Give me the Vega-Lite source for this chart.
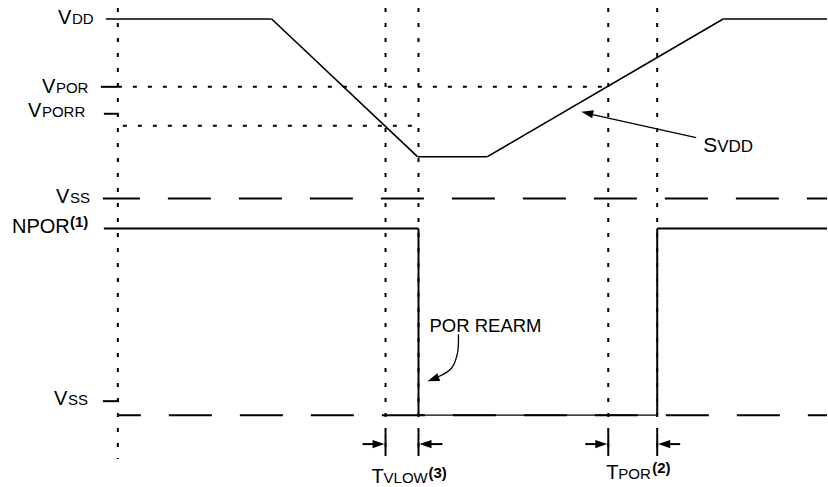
{
  "$schema": "https://vega.github.io/schema/vega-lite/v6.json",
  "width": 828,
  "height": 487,
  "autosize": {"type": "fit", "contains": "padding"},
  "padding": 0,
  "background": "white",
  "config": {"view": {"stroke": null}},
  "datasets": {
    "segs": [
      {"x": 106, "y": 19, "x2": 272, "y2": 19, "kind": "vdd"},
      {"x": 272, "y": 19, "x2": 418, "y2": 157, "kind": "vdd"},
      {"x": 418, "y": 157, "x2": 488, "y2": 157, "kind": "vdd"},
      {"x": 488, "y": 157, "x2": 724, "y2": 19, "kind": "vdd"},
      {"x": 724, "y": 19, "x2": 828, "y2": 19, "kind": "vdd"},
      {"x": 101, "y": 87, "x2": 118, "y2": 87, "kind": "tick"},
      {"x": 104, "y": 114, "x2": 119, "y2": 114, "kind": "tick"},
      {"x": 103, "y": 402, "x2": 119, "y2": 402, "kind": "tick"},
      {"x": 104, "y": 229, "x2": 419, "y2": 229, "kind": "npor"},
      {"x": 419, "y": 229, "x2": 419, "y2": 416, "kind": "npor"},
      {"x": 419, "y": 416, "x2": 658, "y2": 416, "kind": "nporlow"},
      {"x": 658, "y": 416, "x2": 658, "y2": 229, "kind": "npor"},
      {"x": 658, "y": 229, "x2": 828, "y2": 229, "kind": "npor"},
      {"x": 118, "y": 8, "x2": 118, "y2": 460, "kind": "guide"},
      {"x": 386, "y": 8, "x2": 386, "y2": 452, "kind": "guide"},
      {"x": 419, "y": 8, "x2": 419, "y2": 452, "kind": "guide"},
      {"x": 609, "y": 8, "x2": 609, "y2": 452, "kind": "guide"},
      {"x": 658, "y": 8, "x2": 658, "y2": 452, "kind": "guide"},
      {"x": 118, "y": 87, "x2": 609, "y2": 87, "kind": "guide"},
      {"x": 123, "y": 126, "x2": 419, "y2": 126, "kind": "guide"},
      {"x": 103, "y": 199, "x2": 828, "y2": 199, "kind": "rail"},
      {"x": 119, "y": 416, "x2": 828, "y2": 416, "kind": "raillow"},
      {"x": 386, "y": 433, "x2": 386, "y2": 457, "kind": "tick"},
      {"x": 419, "y": 433, "x2": 419, "y2": 457, "kind": "tick"},
      {"x": 609, "y": 433, "x2": 609, "y2": 457, "kind": "tick"},
      {"x": 658, "y": 433, "x2": 658, "y2": 457, "kind": "tick"},
      {"x": 363, "y": 445, "x2": 380, "y2": 445, "kind": "tick"},
      {"x": 443, "y": 445, "x2": 425, "y2": 445, "kind": "tick"},
      {"x": 586, "y": 445, "x2": 603, "y2": 445, "kind": "tick"},
      {"x": 681, "y": 445, "x2": 664, "y2": 445, "kind": "tick"},
      {"x": 697, "y": 138, "x2": 590, "y2": 114, "kind": "pointer"}
    ],
    "heads": [
      {"x": 385, "y": 445, "angle": 0},
      {"x": 420, "y": 445, "angle": 180},
      {"x": 608, "y": 445, "angle": 0},
      {"x": 659, "y": 445, "angle": 180},
      {"x": 582, "y": 112, "angle": 192},
      {"x": 428, "y": 382, "angle": 160}
    ],
    "curve": [
      {"x": 459, "y": 335, "i": 0},
      {"x": 458, "y": 354, "i": 1},
      {"x": 452, "y": 369, "i": 2},
      {"x": 438, "y": 378, "i": 3}
    ],
    "labels": [
      {"x": 58, "y": 24, "text": "V", "part": "cap"},
      {"x": 72, "y": 24, "text": "DD", "part": "small"},
      {"x": 42, "y": 93, "text": "V", "part": "cap"},
      {"x": 56, "y": 93, "text": "POR", "part": "small"},
      {"x": 28, "y": 117, "text": "V", "part": "cap"},
      {"x": 42, "y": 117, "text": "PORR", "part": "small"},
      {"x": 56, "y": 203, "text": "V", "part": "cap"},
      {"x": 70, "y": 203, "text": "SS", "part": "small"},
      {"x": 12, "y": 233, "text": "NPOR", "part": "word"},
      {"x": 70, "y": 227, "text": "(1)", "part": "sup"},
      {"x": 54, "y": 406, "text": "V", "part": "cap"},
      {"x": 68, "y": 406, "text": "SS", "part": "small"},
      {"x": 372, "y": 484, "text": "T", "part": "cap"},
      {"x": 384, "y": 484, "text": "VLOW", "part": "small"},
      {"x": 429, "y": 479, "text": "(3)", "part": "sup"},
      {"x": 607, "y": 480, "text": "T", "part": "cap"},
      {"x": 619, "y": 480, "text": "POR", "part": "small"},
      {"x": 653, "y": 474, "text": "(2)", "part": "sup"},
      {"x": 704, "y": 152, "text": "S", "part": "capbig"},
      {"x": 718, "y": 152, "text": "VDD", "part": "smallbig"},
      {"x": 430, "y": 333, "text": "POR REARM", "part": "note"}
    ]
  },
  "encoding": {
    "x": {"field": "x", "type": "quantitative", "scale": {"domain": [0, 828], "nice": false, "zero": false}, "axis": null},
    "y": {"field": "y", "type": "quantitative", "scale": {"domain": [0, 487], "nice": false, "zero": false, "reverse": true}, "axis": null}
  },
  "layer": [
    {
      "data": {"name": "segs"},
      "transform": [{"filter": "datum.kind === 'guide'"}],
      "mark": {"type": "rule", "color": "black", "strokeWidth": 2, "strokeDash": [4, 11]},
      "encoding": {"x2": {"field": "x2"}, "y2": {"field": "y2"}}
    },
    {
      "data": {"name": "segs"},
      "transform": [{"filter": "datum.kind === 'rail'"}],
      "mark": {"type": "rule", "color": "black", "strokeWidth": 2, "strokeDash": [43, 28], "strokeDashOffset": 6},
      "encoding": {"x2": {"field": "x2"}, "y2": {"field": "y2"}}
    },
    {
      "data": {"name": "segs"},
      "transform": [{"filter": "datum.kind === 'raillow'"}],
      "mark": {"type": "rule", "color": "black", "strokeWidth": 2, "strokeDash": [43, 28], "strokeDashOffset": 21},
      "encoding": {"x2": {"field": "x2"}, "y2": {"field": "y2"}}
    },
    {
      "data": {"name": "segs"},
      "transform": [{"filter": "datum.kind === 'vdd'"}],
      "mark": {"type": "rule", "color": "black", "strokeWidth": 1.6},
      "encoding": {"x2": {"field": "x2"}, "y2": {"field": "y2"}}
    },
    {
      "data": {"name": "segs"},
      "transform": [{"filter": "datum.kind === 'pointer' || datum.kind === 'nporlow'"}],
      "mark": {"type": "rule", "color": "black", "strokeWidth": 1.3},
      "encoding": {"x2": {"field": "x2"}, "y2": {"field": "y2"}}
    },
    {
      "data": {"name": "segs"},
      "transform": [{"filter": "datum.kind === 'npor' || datum.kind === 'tick'"}],
      "mark": {"type": "rule", "color": "black", "strokeWidth": 2},
      "encoding": {"x2": {"field": "x2"}, "y2": {"field": "y2"}}
    },
    {
      "data": {"name": "curve"},
      "mark": {"type": "line", "color": "black", "strokeWidth": 1.3, "interpolate": "catmull-rom"},
      "encoding": {"order": {"field": "i", "type": "quantitative"}}
    },
    {
      "data": {"name": "heads"},
      "mark": {"type": "point", "shape": "M0,0 L-2,-0.7 L-2,0.7 Z", "filled": true, "color": "black", "opacity": 1, "size": 144},
      "encoding": {"angle": {"field": "angle", "type": "quantitative", "scale": null}}
    },
    {
      "data": {"name": "labels"},
      "transform": [{"filter": "datum.part === 'cap'"}],
      "mark": {"type": "text", "font": "Liberation Sans", "fontSize": 20, "align": "left", "baseline": "alphabetic", "color": "black"},
      "encoding": {"text": {"field": "text"}}
    },
    {
      "data": {"name": "labels"},
      "transform": [{"filter": "datum.part === 'capbig'"}],
      "mark": {"type": "text", "font": "Liberation Sans", "fontSize": 21, "align": "left", "baseline": "alphabetic", "color": "black"},
      "encoding": {"text": {"field": "text"}}
    },
    {
      "data": {"name": "labels"},
      "transform": [{"filter": "datum.part === 'word'"}],
      "mark": {"type": "text", "font": "Liberation Sans", "fontSize": 20, "align": "left", "baseline": "alphabetic", "color": "black"},
      "encoding": {"text": {"field": "text"}}
    },
    {
      "data": {"name": "labels"},
      "transform": [{"filter": "datum.part === 'note'"}],
      "mark": {"type": "text", "font": "Liberation Sans", "fontSize": 18.5, "align": "left", "baseline": "alphabetic", "color": "black"},
      "encoding": {"text": {"field": "text"}}
    },
    {
      "data": {"name": "labels"},
      "transform": [{"filter": "datum.part === 'small'"}],
      "mark": {"type": "text", "font": "Liberation Sans", "fontSize": 15, "align": "left", "baseline": "alphabetic", "color": "black"},
      "encoding": {"text": {"field": "text"}}
    },
    {
      "data": {"name": "labels"},
      "transform": [{"filter": "datum.part === 'smallbig'"}],
      "mark": {"type": "text", "font": "Liberation Sans", "fontSize": 17, "align": "left", "baseline": "alphabetic", "color": "black"},
      "encoding": {"text": {"field": "text"}}
    },
    {
      "data": {"name": "labels"},
      "transform": [{"filter": "datum.part === 'sup'"}],
      "mark": {"type": "text", "font": "Liberation Sans", "fontSize": 15, "fontWeight": "bold", "align": "left", "baseline": "alphabetic", "color": "black"},
      "encoding": {"text": {"field": "text"}}
    }
  ]
}
